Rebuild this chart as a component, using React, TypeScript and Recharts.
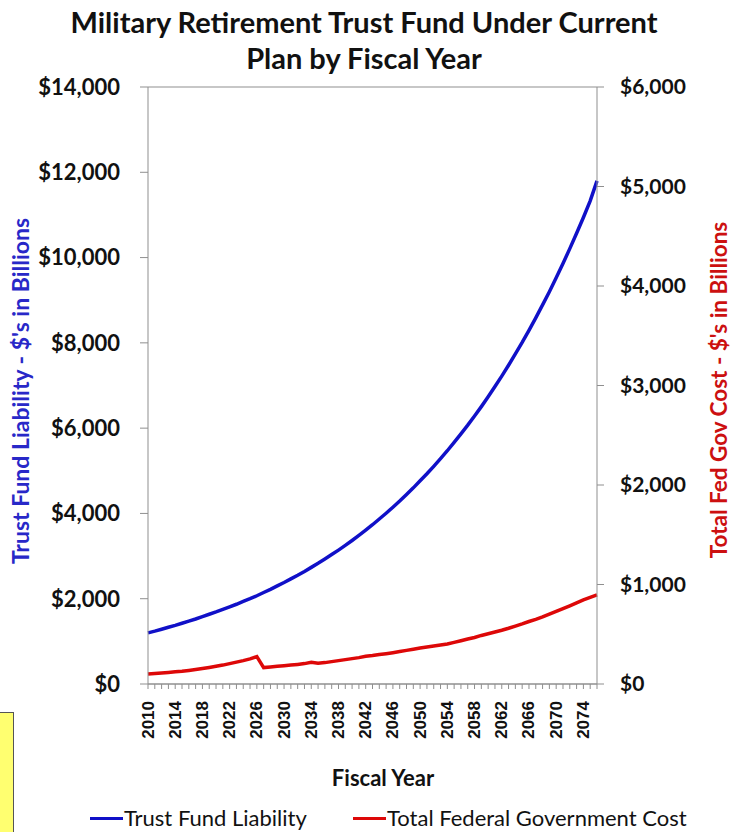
import React from 'react';
import { LineChart, Line, XAxis, YAxis, CartesianGrid } from 'recharts';

const years: number[] = [
  2010, 2011, 2012, 2013, 2014, 2015, 2016, 2017, 2018, 2019,
  2020, 2021, 2022, 2023, 2024, 2025, 2026, 2027, 2028, 2029,
  2030, 2031, 2032, 2033, 2034, 2035, 2036, 2037, 2038, 2039,
  2040, 2041, 2042, 2043, 2044, 2045, 2046, 2047, 2048, 2049,
  2050, 2051, 2052, 2053, 2054, 2055, 2056, 2057, 2058, 2059,
  2060, 2061, 2062, 2063, 2064, 2065, 2066, 2067, 2068, 2069,
  2070, 2071, 2072, 2073, 2074, 2075, 2076,
];

const trustFundLiability: number[] = [
  1200, 1240, 1285, 1330, 1375, 1425, 1475, 1525, 1580, 1635,
  1690, 1750, 1810, 1870, 1935, 2000, 2070, 2145, 2220, 2300,
  2380, 2465, 2550, 2640, 2735, 2830, 2930, 3035, 3140, 3250,
  3365, 3485, 3610, 3735, 3870, 4005, 4145, 4290, 4445, 4600,
  4765, 4930, 5105, 5285, 5470, 5665, 5865, 6070, 6285, 6505,
  6735, 6975, 7220, 7475, 7740, 8010, 8295, 8585, 8890, 9200,
  9525, 9860, 10210, 10570, 10940, 11330, 11800,
];

const totalFederalCost: number[] = [
  100, 105, 110, 116, 122, 128, 136, 145, 155, 166,
  178, 190, 205, 220, 235, 252, 275, 165, 172, 178,
  184, 190, 197, 205, 218, 208, 215, 225, 235, 245,
  255, 265, 278, 286, 296, 305, 315, 326, 338, 350,
  362, 372, 382, 392, 402, 418, 435, 452, 468, 488,
  505, 522, 540, 560, 582, 604, 628, 650, 674, 702,
  730, 758, 786, 815, 845, 870, 895,
];

const leftTicks: number[] = [0, 2000, 4000, 6000, 8000, 10000, 12000, 14000];
const rightTicks: number[] = [0, 1000, 2000, 3000, 4000, 5000, 6000];

const data = years.map((y, i) => ({
  year: y,
  liability: trustFundLiability[i],
  cost: totalFederalCost[i],
}));

const money = (v: number) => '$' + String(v).replace(/\B(?=(\d{3})+(?!\d))/g, ',');

const FONT = 'Lato, "Noto Sans", sans-serif';
const BLUE = '#1010c8';
const RED = '#dd0808';

const YearTick = (props: any) => {
  const { x, y, payload } = props;
  const v = Number(payload.value);
  if ((v - 2010) % 4 !== 0) return null;
  return (
    <text
      x={x}
      y={y}
      transform={`rotate(-90, ${x}, ${y})`}
      textAnchor="end"
      dominantBaseline="central"
      fontFamily='"Liberation Sans", Arial, sans-serif'
      fontWeight={700}
      fontSize={17}
      fill="#111"
    >
      {v}
    </text>
  );
};

export default function App() {
  return (
    <div style={{ position: 'absolute', left: 0, top: 0, width: 736, height: 832, background: '#fff', overflow: 'hidden' }}>
      <div
        style={{
          position: 'absolute', left: -4, top: 4, width: 736, textAlign: 'center',
          fontFamily: FONT, fontWeight: 700, fontSize: 29, lineHeight: '36px', color: '#111',
        }}
      >
        Military Retirement Trust Fund Under Current
        <br />
        Plan by Fiscal Year
      </div>

      <LineChart
        width={736}
        height={832}
        data={data}
        margin={{ top: 87, right: 0, bottom: 0, left: 0 }}
      >
        <CartesianGrid vertical={false} stroke="#8f8f8f" strokeWidth={1.2} />
        <XAxis
          dataKey="year"
          type="category"
          interval={0}
          height={148}
          tick={<YearTick />}
          tickSize={5}
          tickMargin={12}
          stroke="#8f8f8f"
          axisLine={{ stroke: '#8f8f8f' }}
          tickLine={{ stroke: '#8f8f8f' }}
        />
        <YAxis
          yAxisId="left"
          orientation="left"
          width={148}
          domain={[0, 14000]}
          ticks={leftTicks}
          tickFormatter={money}
          tickSize={8}
          tickMargin={20}
          interval={0}
          stroke="#8f8f8f"
          tick={{ fill: '#111', fontFamily: FONT, fontWeight: 700, fontSize: 22 }}
        />
        <YAxis
          yAxisId="right"
          orientation="right"
          width={139}
          domain={[0, 6000]}
          ticks={rightTicks}
          tickFormatter={money}
          tickSize={7}
          tickMargin={16}
          interval={0}
          stroke="#8f8f8f"
          tick={{ fill: '#111', fontFamily: FONT, fontWeight: 700, fontSize: 21 }}
        />
        <Line
          yAxisId="left"
          type="linear"
          dataKey="liability"
          stroke={BLUE}
          strokeWidth={3.5}
          dot={false}
          isAnimationActive={false}
        />
        <Line
          yAxisId="right"
          type="linear"
          dataKey="cost"
          stroke={RED}
          strokeWidth={3.5}
          dot={false}
          isAnimationActive={false}
        />
      </LineChart>

      <div style={{ position: 'absolute', left: 20, top: 391, width: 0, height: 0 }}>
        <div
          style={{
            position: 'absolute', left: 0, top: 0, transform: 'translate(-50%, -50%) rotate(-90deg)',
            whiteSpace: 'nowrap', fontFamily: FONT, fontWeight: 700, fontSize: 23, color: '#2828c8',
          }}
        >
          Trust Fund Liability - $'s in Billions
        </div>
      </div>

      <div style={{ position: 'absolute', left: 718, top: 390, width: 0, height: 0 }}>
        <div
          style={{
            position: 'absolute', left: 0, top: 0, transform: 'translate(-50%, -50%) rotate(-90deg)',
            whiteSpace: 'nowrap', fontFamily: FONT, fontWeight: 700, fontSize: 22.5, color: '#cc1010',
          }}
        >
          Total Fed Gov Cost - $'s in Billions
        </div>
      </div>

      <div
        style={{
          position: 'absolute', left: 283, top: 764, width: 200, textAlign: 'center',
          fontFamily: FONT, fontWeight: 700, fontSize: 22, color: '#111', lineHeight: '28px',
        }}
      >
        Fiscal Year
      </div>

      <div
        style={{
          position: 'absolute', left: 0, top: 804, width: 736, height: 28,
          fontFamily: FONT, fontSize: 22, color: '#111', lineHeight: '28px',
        }}
      >
        <div style={{ position: 'absolute', left: 90, top: 13, width: 33, height: 3, background: BLUE }} />
        <div style={{ position: 'absolute', left: 124, top: 0, whiteSpace: 'nowrap' }}>Trust Fund Liability</div>
        <div style={{ position: 'absolute', left: 353, top: 13, width: 33, height: 3, background: RED }} />
        <div style={{ position: 'absolute', left: 387, top: 0, whiteSpace: 'nowrap' }}>Total Federal Government Cost</div>
      </div>

      <div
        style={{
          position: 'absolute', left: -5, top: 712, width: 17, height: 130,
          background: '#ffff70', border: '1px solid #555',
        }}
      />
    </div>
  );
}
